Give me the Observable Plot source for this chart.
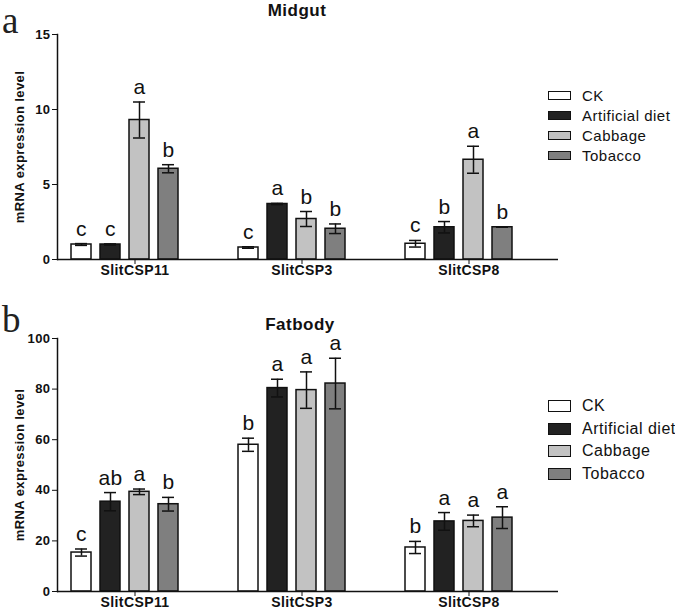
<!DOCTYPE html>
<html><head><meta charset="utf-8">
<script src="https://cdn.jsdelivr.net/npm/d3@7"></script>
<script src="https://cdn.jsdelivr.net/npm/@observablehq/plot@0.6"></script>
<style>
body{margin:0;background:#fff;font-family:"Liberation Sans",Arial,sans-serif;}
#wrap{position:relative;width:675px;height:611px;overflow:hidden;background:#fff;}
.panel{position:absolute;left:0;}
.panel svg{overflow:visible;}
.letter{position:absolute;font-family:"Liberation Serif","Times New Roman",serif;font-size:37px;line-height:0.5;height:19px;color:#222;}
.title{position:absolute;font-weight:bold;font-size:17px;line-height:0.8;letter-spacing:0.5px;transform:translateX(-50%);color:#111;white-space:nowrap;}
.legend{position:absolute;left:548px;color:#111;letter-spacing:0.5px;}
.row{display:flex;align-items:center;white-space:nowrap;}
.sw{width:21px;border:1.5px solid #111;margin-right:11px;box-sizing:content-box;}
</style></head><body>
<div id="wrap"></div>
<script>
const genes = ["SlitCSP11", "SlitCSP3", "SlitCSP8"];
const treatments = ["CK", "Artificial diet", "Cabbage", "Tobacco"];
const colors = ["#ffffff", "#222222", "#c2c2c2", "#7f7f7f"];

// Midgut (a): rows = genes, cols = treatments
const midgutMean = [[1.0, 1.0, 9.3, 6.05], [0.8, 3.7, 2.7, 2.05], [1.05, 2.15, 6.65, 2.15]];
const midgutErr = [[0.06, 0.04, 1.2, 0.27], [0.05, 0.04, 0.5, 0.32], [0.22, 0.38, 0.9, 0.0]];
const midgutSig = [["c", "c", "a", "b"], ["c", "a", "b", "b"], ["c", "b", "a", "b"]];
const midgutTicks = [0, 5, 10, 15];

// Fatbody (b)
const fatMean = [[15.4, 35.5, 39.4, 34.5], [58.0, 80.4, 79.6, 82.2], [17.4, 27.7, 27.9, 29.2]];
const fatErr = [[1.4, 3.6, 1.1, 2.7], [2.6, 3.5, 7.2, 10.0], [2.4, 3.5, 2.3, 4.3]];
const fatSig = [["c", "ab", "a", "b"], ["b", "a", "a", "a"], ["b", "a", "a", "a"]];
const fatTicks = [0, 20, 40, 60, 80, 100];

function rows(mean, err, sig) {
  const out = [];
  genes.forEach((g, i) => treatments.forEach((t, j) => out.push({
    gene: g, treatment: t, value: mean[i][j], lo: mean[i][j] - err[i][j], hi: mean[i][j] + err[i][j], sig: sig[i][j]
  })));
  return out;
}

function chart(data, ticks, height, marginTop, marginBottom) {
  return Plot.plot({
    width: 675, height, marginLeft: 56, marginRight: 117, marginTop, marginBottom,
    style: {fontFamily: "Liberation Sans, Arial, sans-serif", color: "#111", background: "transparent", letterSpacing: "0.4px"},
    fx: {domain: genes, padding: 0, label: null},
    x: {domain: treatments, paddingInner: 0.32, paddingOuter: 1.0, align: 0.24, axis: null},
    y: {domain: [ticks[0], ticks[ticks.length - 1]], axis: null},
    color: {domain: treatments, range: colors},
    marks: [
      Plot.barY(data, {fx: "gene", x: "treatment", y: "value", fill: "treatment", stroke: "#111", strokeWidth: 1.5}),
      Plot.ruleX(data, {fx: "gene", x: "treatment", y1: "lo", y2: "hi", stroke: "#111", strokeWidth: 1.5}),
      Plot.tickY(data, {fx: "gene", x: "treatment", y: "hi", insetLeft: 4, insetRight: 4, stroke: "#111", strokeWidth: 1.5}),
      Plot.tickY(data, {fx: "gene", x: "treatment", y: "lo", insetLeft: 4, insetRight: 4, stroke: "#111", strokeWidth: 1.5}),
      Plot.text(data, {fx: "gene", x: "treatment", y: "hi", text: "sig", lineAnchor: "bottom", dy: -8, fontSize: 21, fill: "#111"}),
      Plot.ruleY([ticks[0]], {stroke: "#111", strokeWidth: 1.5}),
      Plot.frame({anchor: "left", facetAnchor: "left", stroke: "#111", strokeWidth: 1.5}),
      Plot.axisY({ticks, tickSize: 5, tickPadding: 2, fontWeight: "bold", fontSize: 13,
        label: "mRNA expression level", labelAnchor: "center", labelArrow: "none", labelOffset: 43}),
      Plot.axisFx({anchor: "bottom", tickSize: 5, tickPadding: 1, fontWeight: "bold", fontSize: 14, label: null, dx: -6})
    ]
  });
}

const wrap = document.getElementById("wrap");
function addPanel(top, svg) {
  const d = document.createElement("div");
  d.className = "panel"; d.style.top = top + "px";
  d.appendChild(svg); wrap.appendChild(d);
}
function addText(cls, txt, left, top) {
  const d = document.createElement("div");
  d.className = cls; d.textContent = txt;
  d.style.left = left + "px"; d.style.top = top + "px";
  wrap.appendChild(d);
}
function addLegend(top, gap, fs, swh) {
  const L = document.createElement("div");
  L.className = "legend"; L.style.top = top + "px"; L.style.fontSize = fs + "px";
  treatments.forEach((t, i) => {
    const r = document.createElement("div"); r.className = "row"; r.style.height = gap + "px";
    const s = document.createElement("div"); s.className = "sw"; s.style.background = colors[i]; s.style.height = swh + "px";
    const l = document.createElement("span"); l.textContent = t;
    r.appendChild(s); r.appendChild(l); L.appendChild(r);
  });
  wrap.appendChild(L);
}

addPanel(0, chart(rows(midgutMean, midgutErr, midgutSig), midgutTicks, 290, 34, 31));
addPanel(290, chart(rows(fatMean, fatErr, fatSig), fatTicks, 321, 48, 20));

addText("letter", "a", 2, 12);
addText("letter", "b", 2, 311);
addText("title", "Midgut", 297, 4);
addText("title", "Fatbody", 300, 318);
addLegend(85, 20, 15, 7);
addLegend(395, 22.5, 16, 10);
</script>
</body></html>
